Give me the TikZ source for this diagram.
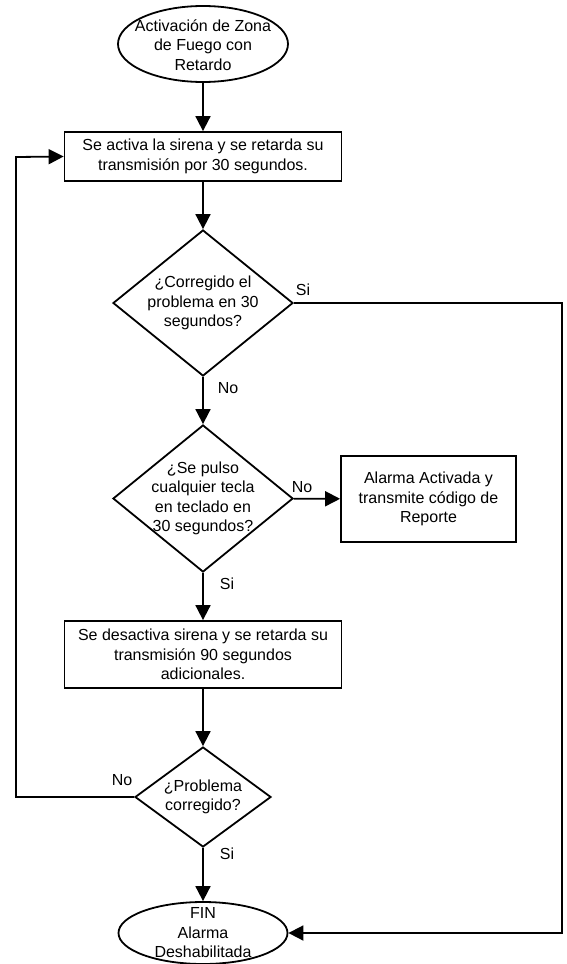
\documentclass[tikz,border=0pt]{standalone}
\usepackage{fontspec}
\setmainfont{Liberation Sans}
\usetikzlibrary{shapes.geometric,arrows.meta}
\begin{document}
\begin{tikzpicture}[x=1pt,y=-1pt,font=\fontsize{16}{19.5}\selectfont]
    \tikzstyle{term}=[ellipse,draw,line width=1.8pt,inner sep=0pt,minimum width=170pt]
    \tikzstyle{proc}=[rectangle,draw,line width=1.8pt,align=center,inner sep=0pt]
    \tikzstyle{dec}=[diamond,draw,line width=1.8pt,inner sep=0pt]
    \tikzstyle{txt}=[align=center,inner sep=0pt]
    \tikzstyle{arr}=[line width=1.8pt,-{Triangle[length=15pt,width=15pt]}]
    \useasboundingbox (0,0) rectangle (566,964);
    % start
    \node[term,minimum height=76pt] (ini) at (203,44){};
    \node[txt] (init) at (203,45){Activación de Zona\\de Fuego con\\Retardo};
    \node[proc,minimum width=277pt,minimum height=49pt] (act) at (203,156.5){Se activa la sirena y se retarda su\\transmisión por 30 segundos.};
    % decisions
    \node[dec,minimum width=180pt,minimum height=146pt] (q1) at (203,303){};
    \node[txt] (q1t) at (203,303){¿Corregido el\\problema en 30\\segundos?};
    \node[dec,minimum width=180pt,minimum height=147pt] (q2) at (203,498.5){};
    \node[txt] (q2t) at (203,498.5){¿Se pulso\\cualquier tecla\\en teclado en\\30 segundos?};
    \node[proc,minimum width=175pt,minimum height=86pt] (alm) at (428.5,499){Alarma Activada y\\transmite código de\\Reporte};
    \node[proc,minimum width=277pt,minimum height=67pt] (des) at (203,654.5){Se desactiva sirena y se retarda su\\transmisión 90 segundos\\adicionales.};
    \node[dec,minimum width=136pt,minimum height=100pt] (q3) at (203,797){};
    \node[txt] (q3t) at (203,797){¿Problema\\corregido?};
    % end
    \node[term,minimum height=62pt,minimum width=169pt] (fin) at (203,933){};
    \node[txt] (fint) at (203,933){FIN\\Alarma\\Deshabilitada};
    % labels
    \node (ls1) at (303,290){Si};
    \node (ln1) at (228,388){No};
    \node (ln2) at (302,487){No};
    \node (ls2) at (227,584){Si};
    \node (ln3) at (122,780){No};
    \node (ls3) at (227,854){Si};
    \coordinate (lc) at (16,157);
    \coordinate (rc) at (562,620);
    \draw[arr] (ini) -- (act);
    \draw[arr] (act) -- (q1);
    \draw[arr] (q1) -- (q2);
    \draw[arr] (q2) -- (alm);
    \draw[arr] (q2) -- (des);
    \draw[arr] (des) -- (q3);
    \draw[arr] (q3) -- (fin);
    \draw[arr] (q3.west) -| (lc) -- (act.west);
    \draw[arr] (q1.east) -| (rc) |- (fin.east);
  \end{tikzpicture}
\end{document}
